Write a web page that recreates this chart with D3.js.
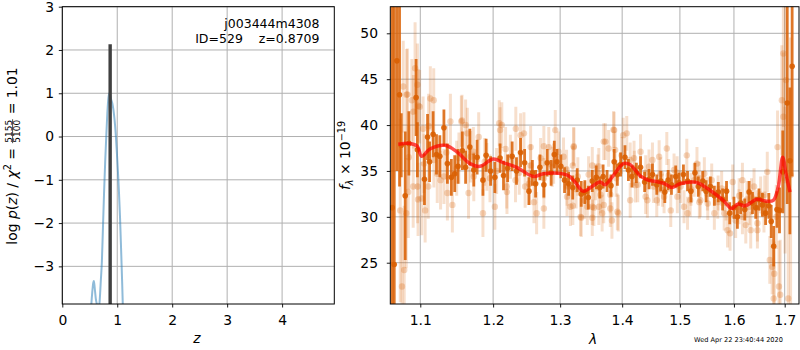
<!DOCTYPE html>
<html><head><meta charset="utf-8">
<script src="https://cdn.jsdelivr.net/npm/d3@7"></script>
<style>body{margin:0;background:#fff} svg{display:block} text{font-family:"DejaVu Sans",sans-serif}</style>
</head><body><svg id="c" width="800" height="350"></svg>
<script>
// ---------- data ----------
const zGrid = [0.50,0.525,0.545,0.565,0.575,0.59,0.61,0.63,0.655,0.68,0.70,0.72,0.74,0.76,0.78,0.80,0.82,0.84,0.855,0.87,0.89,0.91,0.93,0.95,0.97,0.99,1.01,1.03,1.05,1.07,1.09,1.11,1.13];
const logPz = [-4.6,-3.95,-3.6,-3.37,-3.34,-3.5,-3.75,-3.88,-4.0,-3.8,-3.35,-2.9,-2.1,-1.3,-0.6,0.0,0.55,0.9,1.0,0.95,0.85,0.77,0.62,0.4,0.1,-0.3,-0.75,-1.25,-1.85,-2.6,-3.4,-4.3,-5.2];
const zBest = 0.8709, zBestPeak = 2.13;
const zTicks = [0,1,2,3,4], zTickLabels = ["0","1","2","3","4"];
const pTicks = [-3,-2,-1,0,1,2,3], pTickLabels = ["\u22123","\u22122","\u22121","0","1","2","3"];
const wTicks = [1.1,1.2,1.3,1.4,1.5,1.6,1.7], wTickLabels = ["1.1","1.2","1.3","1.4","1.5","1.6","1.7"];
const fTicks = [25,30,35,40,45,50], fTickLabels = ["25","30","35","40","45","50"];

const darkWave = [
1.0637,1.0663,1.0697,1.0731,1.0753,1.0804,1.0851,1.0945,1.0962,1.1055,
1.1096,1.1123,1.1170,1.1215,1.1260,1.1315,1.1362,1.1416,1.1462,1.1507,
1.1567,1.1612,1.1671,1.1726,1.1773,1.1855,1.1900,1.1964,1.2025,1.2100,
1.2150,1.2210,1.2276,1.2340,1.2400,1.2460,1.2525,1.2576,1.2625,1.2690,
1.2750,1.2801,1.2861,1.2910,1.2951,1.3011,1.3069,1.3133,1.3197,1.3268,
1.3332,1.3390,1.3445,1.3509,1.3573,1.3631,1.3685,1.3750,1.3814,1.3867,
1.3920,1.3974,1.4047,1.4105,1.4165,1.4240,1.4311,1.4381,1.4456,1.4516,
1.4591,1.4661,1.4732,1.4790,1.4849,1.4925,1.4982,1.5063,1.5137,1.5198,
1.5272,1.5333,1.5415,1.5476,1.5556,1.5630,1.5704,1.5785,1.5859,1.5920,
1.6000,1.6066,1.6130,1.6208,1.6292,1.6358,1.6422,1.6486,1.6553,1.6617,
1.6681,1.6728,1.6778,1.6844,1.6895,1.6961,1.7052,1.7106,1.7152];
const darkFlux = [
31.0,24.8,47.0,43.3,37.8,32.3,38.0,43.0,37.3,34.1,
38.7,36.0,39.0,36.8,36.6,39.7,35.8,34.3,34.7,35.5,
37.2,35.4,37.6,35.1,36.5,34.0,36.7,35.0,34.3,36.4,
34.5,35.3,36.6,35.0,37.0,35.9,32.8,34.8,33.6,35.4,
33.5,35.9,34.8,36.8,36.0,35.5,34.0,33.6,33.2,34.0,
32.5,32.7,32.1,33.9,34.3,33.2,34.4,33.9,33.4,36.0,
34.6,35.7,36.5,35.1,34.4,34.8,35.4,33.8,34.1,34.6,
33.5,33.9,32.7,34.0,33.5,34.4,33.7,34.6,33.9,32.8,
34.8,33.3,33.9,32.8,33.3,32.3,32.7,31.9,32.8,30.4,
31.0,30.0,31.5,30.8,32.7,31.5,31.0,31.9,31.3,30.4,
31.2,29.5,26.8,30.8,30.7,34.9,42.4,36.1,46.4];
const darkErr = [
25,30,12,10,3.5,7,3.5,4.2,3,2.8,
2.5,2.2,2.5,2.2,2.3,2.0,2.2,2.0,2.0,1.9,
2.1,1.8,2.0,1.8,1.9,1.7,1.8,1.6,1.7,1.6,
1.6,1.5,1.6,1.5,1.6,1.5,1.5,1.4,1.5,1.4,
1.4,1.5,1.4,1.5,1.4,1.3,1.4,1.3,1.3,1.3,
1.4,1.3,1.3,1.2,1.3,1.2,1.3,1.2,1.2,1.4,
1.2,1.3,1.3,1.2,1.2,1.1,1.2,1.1,1.1,1.2,
1.1,1.1,1.2,1.1,1.1,1.2,1.1,1.1,1.1,1.2,
1.1,1.1,1.1,1.2,1.1,1.1,1.1,1.2,1.1,1.2,
1.2,1.3,1.2,1.2,1.2,1.2,1.2,1.2,1.3,1.3,
1.4,1.8,2.2,2.0,2.5,4.5,11,8,12];

const lightWave = [
1.0762,1.0791,1.0740,1.0817,1.0833,1.0890,1.0932,1.0962,1.0910,1.0974,
1.0965,1.1019,1.1064,1.1110,1.1133,1.1178,1.1225,1.1270,1.1315,1.1362,
1.1430,1.1489,1.1553,1.1612,1.1636,1.1681,1.1726,1.1795,1.1855,1.1910,
1.1955,1.2025,1.2100,1.2125,1.2200,1.2250,1.2325,1.2400,1.2450,1.2525,
1.2600,1.2640,1.2700,1.2750,1.2825,1.2876,1.2925,1.2975,1.3053,1.3108,
1.3161,1.3214,1.3278,1.3321,1.3385,1.3429,1.3509,1.3562,1.3615,1.3669,
1.3722,1.3775,1.3830,1.3867,1.3920,1.3990,1.4018,1.4077,1.4135,1.4205,
1.4263,1.4311,1.4398,1.4456,1.4533,1.4591,1.4661,1.4719,1.4767,1.4837,
1.4895,1.4954,1.5013,1.5074,1.5124,1.5185,1.5259,1.5309,1.5370,1.5444,
1.5507,1.5581,1.5630,1.5693,1.5767,1.5815,1.5878,1.5926,1.5976,1.6033,
1.6097,1.6163,1.6228,1.6292,1.6339,1.6389,1.6455,1.6519,1.6584,1.6650,
1.6700,1.6747,1.6778,1.6830,1.6856,1.6909,1.6942,1.6973,1.7006,1.7026,
1.7072,1.7120,
1.085,1.105,1.118,1.135,1.152,1.172,1.188,1.205,1.218,1.238,
1.255,1.275,1.290,1.310,1.325,1.345,1.360,1.390,1.420,1.440,
1.462,1.480,1.495,1.520,1.535,1.550,1.570,1.585,1.610,1.625,
1.645,1.660,
1.3213,1.3509,1.3615,1.3695,1.3856,1.3883,1.3199,1.3642,1.3803,1.3199,
1.3332,1.3535,1.3695,1.3803,1.3936,1.3509,1.3108,1.4223,1.4135,
1.2550,1.2750,1.4516,1.4632,1.4690,1.4428,1.5137,1.5352,1.6163,1.6324,
1.6455,1.6973,1.6789,1.6884,
1.0778,1.0821,1.0992,1.1037,1.1403,1.1562,1.0843,1.0907,1.0971,1.1105,
1.1653,1.2088,1.2197,1.2330,1.2468];
const lightFlux = [
22.4,24.2,30.7,30.4,43.35,42.7,46.2,44.4,41.45,42.1,
33.3,32.0,30.7,39.9,42.9,42.7,34.7,34.0,34.4,32.6,
31.3,35.3,40.4,40.0,39.1,36.55,34.4,38.7,30.4,35.45,
34.2,31.1,39.45,40.0,32.7,36.55,34.0,38.9,39.1,33.6,
31.6,30.4,36.4,30.9,37.6,35.45,39.45,37.1,36.55,33.3,
31.1,37.6,34.4,30.0,31.8,31.1,31.1,33.8,31.1,30.4,
38.2,37.45,29.6,39.45,30.55,36.7,38.9,39.1,36.2,35.3,
33.5,37.1,32.2,35.45,33.3,31.8,34.7,32.2,37.45,30.7,
35.1,32.2,33.3,31.1,36.7,31.8,34.0,35.8,31.8,34.7,
31.45,34.0,30.4,31.6,33.1,30.4,28.55,28.2,33.8,29.6,
31.1,34.0,29.1,31.1,32.2,33.3,28.55,32.4,30.4,34.9,
25.3,24.55,21.1,30.0,37.6,21.5,42.7,40.9,34.0,44.9,
21.1,34.55,
36.5,35.8,36.2,37.0,36.4,37.1,36.0,35.0,37.4,34.8,
35.6,34.2,35.8,35.2,33.0,34.6,34.8,34.2,36.4,34.8,
33.0,34.5,34.8,33.0,34.2,32.5,32.6,31.5,32.3,31.9,
30.9,32.4,
37.7,35.6,35.5,38.2,39.5,37.3,35.6,32.4,32.4,31.2,
29.9,31.0,31.3,30.9,30.4,29.9,32.2,33.45,31.8,
37.6,37.7,36.2,36.55,32.9,31.8,30.4,31.6,30.0,28.55,
29.3,47.8,23.8,22.4,
44.2,43.3,42.0,39.6,40.4,40.5,32.7,33.3,31.9,33.3,
32.6,40.2,33.3,39.6,33.3];
const lightErr = [
8,7,10,6,5,4.5,5,4.5,4,4,
4,4,3.5,3.5,3.5,3.5,3.2,3.2,3,3,
3,3,2.8,2.8,2.8,2.8,2.7,2.7,2.6,2.6,
2.6,2.5,2.5,2.5,2.4,2.4,2.4,2.4,2.3,2.3,
2.3,2.3,2.2,2.2,2.2,2.2,2.2,2.2,2.1,2.1,
2.1,2.1,2.1,2.1,2.0,2.0,2.0,2.0,2.0,2.0,
2.0,2.0,2.0,2.0,2.0,2.0,1.9,1.9,1.9,1.9,
1.9,1.9,1.9,1.9,1.8,1.8,1.8,1.8,1.8,1.8,
1.8,1.8,1.8,1.8,1.8,1.8,1.8,1.8,1.8,1.8,
1.8,1.8,1.8,1.8,1.9,1.9,1.9,1.9,1.9,1.9,
1.9,1.9,2.0,2.0,2.0,2.0,2.0,2.0,2.1,2.2,
2.6,3,4,3.5,4,6,6,7,8,9,
12,15,
3.5,3.2,3.0,2.9,2.8,2.7,2.6,2.5,2.4,2.4,
2.3,2.2,2.2,2.1,2.1,2.0,2.0,2.0,1.9,1.9,
1.8,1.8,1.8,1.8,1.8,1.8,1.9,1.9,1.9,2.0,
2.0,2.1,
2.1,2.0,2.0,2.0,2.0,2.0,2.1,2.0,2.0,2.1,
2.1,2.0,2.0,2.0,2.0,2.0,2.1,1.9,1.9,
2.3,2.2,1.9,1.8,1.8,1.9,1.8,1.8,1.9,2.0,
2.0,8,3.5,5,
5,5,4,3.5,3,2.8,5,4.5,4,3.5,
2.8,2.5,2.4,2.4,2.3];

const modelWave = [1.0715,1.0866,1.0961,1.1018,1.1128,1.1329,1.1489,1.1673,1.1813,1.2002,1.2146,1.2342,1.2589,1.2741,1.2971,1.3127,1.3233,1.3365,1.3525,1.3634,1.3716,1.3852,1.4019,1.4131,1.4301,1.4444,1.4617,1.4735,1.4853,1.5001,1.5241,1.5364,1.5548,1.5797,1.5957,1.6083,1.6212,1.6440,1.6638,1.6770,1.6870,1.6959,1.7026,1.7108];
const modelFlux = [37.9,38.0,37.7,36.6,37.4,37.8,37.1,35.8,35.5,36.3,35.9,35.4,34.4,34.7,34.75,34.5,33.8,32.8,33.4,33.8,33.5,34.5,35.8,35.7,34.5,34.0,33.8,33.6,33.2,33.6,33.8,33.6,32.9,31.8,30.9,31.4,31.2,31.9,31.7,31.8,33.3,36.5,34.7,32.7];

const objName = "j003444m4308", objInfo = "ID=529    z=0.8709";
const stamp = "Wed Apr 22 23:40:44 2020";

// ---------- drawing ----------
const svg = d3.select("#c");
const FS = 13.9;
const L = {x0:62.3, x1:334.3, y0:6.7, y1:304};
const R = {x0:390.3, x1:799, y0:6.7, y1:304};
const xz = d3.scaleLinear([0,4.95],[L.x0,L.x1]);
const yz = d3.scaleLinear([-3.87,3],[L.y1,L.y0]);
const xw = d3.scaleLog([1.0613,1.7293],[R.x0,R.x1]);
const yf = d3.scaleLinear([20.5,52.9],[R.y1,R.y0]);
const grid = "#b0b0b0";

const defs = svg.append("defs");
defs.append("clipPath").attr("id","cl").append("rect").attr("x",L.x0).attr("y",L.y0).attr("width",L.x1-L.x0).attr("height",L.y1-L.y0);
defs.append("clipPath").attr("id","cr").append("rect").attr("x",R.x0).attr("y",R.y0).attr("width",R.x1-R.x0).attr("height",R.y1-R.y0);

function gridLines(P, xs, ys, xt, yt){
  const g = svg.append("g");
  g.selectAll("line.v").data(xt).join("line").attr("x1",d=>xs(d)).attr("x2",d=>xs(d)).attr("y1",P.y0).attr("y2",P.y1).attr("stroke",grid).attr("stroke-width",1);
  g.selectAll("line.h").data(yt).join("line").attr("y1",d=>ys(d)).attr("y2",d=>ys(d)).attr("x1",P.x0).attr("x2",P.x1).attr("stroke",grid).attr("stroke-width",1);
}
gridLines(L, xz, yz, zTicks, pTicks);
gridLines(R, xw, yf, wTicks, fTicks);

// left panel content
const gl = svg.append("g").attr("clip-path","url(#cl)");
const pzData = zGrid.map((z,i)=>[z,logPz[i]]);
gl.append("path").datum(pzData)
  .attr("d", d3.line().x(d=>xz(d[0])).y(d=>yz(d[1])).curve(d3.curveMonotoneX))
  .attr("fill","none").attr("stroke","#1f77b4").attr("stroke-opacity",0.5).attr("stroke-width",2);
gl.append("line").attr("x1",xz(zBest)).attr("x2",xz(zBest)).attr("y1",yz(-3.87)).attr("y2",yz(zBestPeak))
  .attr("stroke","#404040").attr("stroke-width",3.4);

// right panel content
const gr = svg.append("g").attr("clip-path","url(#cr)");
const col = "#d95f02";
const n1 = Math.min(lightWave.length, lightFlux.length, lightErr.length);
const n2 = Math.min(darkWave.length, darkFlux.length, darkErr.length);
const light = lightWave.slice(0,n1).map((w,i)=>({w, f:lightFlux[i], e:lightErr[i]}));
const dark = darkWave.slice(0,n2).map((w,i)=>({w, f:darkFlux[i], e:darkErr[i]}));
gr.append("g").selectAll("line").data(light).join("line")
  .attr("x1",d=>xw(d.w)).attr("x2",d=>xw(d.w)).attr("y1",d=>yf(d.f-d.e)).attr("y2",d=>yf(d.f+d.e))
  .attr("stroke",col).attr("stroke-opacity",0.2).attr("stroke-width",3);
gr.append("g").selectAll("circle").data(light).join("circle")
  .attr("cx",d=>xw(d.w)).attr("cy",d=>yf(d.f)).attr("r",3.2).attr("fill",col).attr("fill-opacity",0.25);
gr.append("g").selectAll("line").data(dark).join("line")
  .attr("x1",d=>xw(d.w)).attr("x2",d=>xw(d.w)).attr("y1",d=>yf(d.f-d.e)).attr("y2",d=>yf(d.f+d.e))
  .attr("stroke",col).attr("stroke-opacity",0.85).attr("stroke-width",2.8);
gr.append("g").selectAll("circle").data(dark).join("circle")
  .attr("cx",d=>xw(d.w)).attr("cy",d=>yf(d.f)).attr("r",2.8).attr("fill",col).attr("fill-opacity",0.9);
const mData = modelWave.map((w,i)=>[w,modelFlux[i]]);
gr.append("path").datum(mData)
  .attr("d", d3.line().x(d=>xw(d[0])).y(d=>yf(d[1])).curve(d3.curveCatmullRom))
  .attr("fill","none").attr("stroke","#ff0000").attr("stroke-opacity",0.7).attr("stroke-width",3.5);

// axes
function styleAxis(g){
  g.select(".domain").remove();
  g.selectAll(".tick line").attr("stroke","#000").attr("stroke-width",0.9);
  g.selectAll(".tick text").attr("font-family","DejaVu Sans").attr("font-size",FS).attr("fill","#000");
  g.attr("font-family",null).attr("font-size",null);
}
svg.append("g").attr("transform",`translate(0,${L.y1})`)
  .call(d3.axisBottom(xz).tickValues(zTicks).tickFormat((d,i)=>zTickLabels[i]).tickSize(3.5).tickPadding(7.6)).call(styleAxis);
svg.append("g").attr("transform",`translate(${L.x0},0)`)
  .call(d3.axisLeft(yz).tickValues(pTicks).tickFormat((d,i)=>pTickLabels[i]).tickSize(3.5).tickPadding(4.8)).call(styleAxis);
svg.append("g").attr("transform",`translate(0,${R.y1})`)
  .call(d3.axisBottom(xw).tickValues(wTicks).tickFormat((d,i)=>wTickLabels[i]).tickSize(3.5).tickPadding(7.6)).call(styleAxis);
svg.append("g").attr("transform",`translate(${R.x0},0)`)
  .call(d3.axisLeft(yf).tickValues(fTicks).tickFormat((d,i)=>fTickLabels[i]).tickSize(3.5).tickPadding(8.8)).call(styleAxis);

// spines
[L,R].forEach(P=>svg.append("rect").attr("x",P.x0).attr("y",P.y0).attr("width",P.x1-P.x0).attr("height",P.y1-P.y0)
  .attr("fill","none").attr("stroke","#000").attr("stroke-width",1));

// annotation
svg.append("text").attr("x",319.5).attr("y",27.5).attr("text-anchor","end").attr("font-size",12.5).text(objName);
svg.append("text").attr("x",319.5).attr("y",42.5).attr("text-anchor","end").attr("font-size",12.5)
  .attr("xml:space","preserve").style("white-space","pre").text(objInfo);

// x labels
svg.append("text").attr("x",197).attr("y",343).attr("text-anchor","middle").attr("font-size",FS).attr("font-style","italic").text("z");
svg.append("text").attr("x",593).attr("y",344).attr("text-anchor","middle").attr("font-size",FS).attr("font-style","italic").text("\u03bb");

// left y label with fraction
{
  const g = svg.append("g").attr("transform","translate(16.7,156) rotate(-90)");
  const t1 = g.append("text").attr("font-size",FS);
  t1.append("tspan").text("log ");
  t1.append("tspan").attr("font-style","italic").text("p");
  t1.append("tspan").text("(");
  t1.append("tspan").attr("font-style","italic").text("z");
  t1.append("tspan").text(") / ");
  t1.append("tspan").attr("font-style","italic").text("\u03c7");
  t1.append("tspan").attr("font-size",9.7).attr("dy",-5.5).text("2");
  t1.append("tspan").attr("dy",5.5).attr("xml:space","preserve").style("white-space","pre").text(" = ");
  const num = g.append("text").attr("font-size",9).attr("text-anchor","middle").text("5155");
  const den = g.append("text").attr("font-size",9).attr("text-anchor","middle").text("5100");
  const t3 = g.append("text").attr("font-size",FS).attr("xml:space","preserve").style("white-space","pre").text(" = 1.01");
  const w1 = t1.node().getComputedTextLength();
  const wf = Math.max(num.node().getComputedTextLength(), den.node().getComputedTextLength()) + 2;
  const w3 = t3.node().getComputedTextLength();
  const tot = w1 + wf + w3;
  const x0 = -tot/2;
  t1.attr("x",x0);
  num.attr("x",x0+w1+wf/2).attr("y",-5.2);
  den.attr("x",x0+w1+wf/2).attr("y",3.6);
  g.append("line").attr("x1",x0+w1+0.5).attr("x2",x0+w1+wf-0.5).attr("y1",-4.1).attr("y2",-4.1).attr("stroke","#000").attr("stroke-width",0.7);
  t3.attr("x",x0+w1+wf);
}
// right y label
{
  const g = svg.append("g").attr("transform","translate(350,155.5) rotate(-90)");
  const t = g.append("text").attr("font-size",FS).attr("text-anchor","middle");
  t.append("tspan").attr("font-style","italic").text("f");
  t.append("tspan").attr("font-size",9.7).attr("font-style","italic").attr("dy",3).text("\u03bb");
  t.append("tspan").attr("dy",-3).attr("xml:space","preserve").style("white-space","pre").text(" \u00d7 10");
  t.append("tspan").attr("font-size",9.7).attr("dy",-5.5).text("\u221219");
}
// timestamp
svg.append("text").attr("x",694).attr("y",342).attr("font-size",6.6).text(stamp);
</script></body></html>
